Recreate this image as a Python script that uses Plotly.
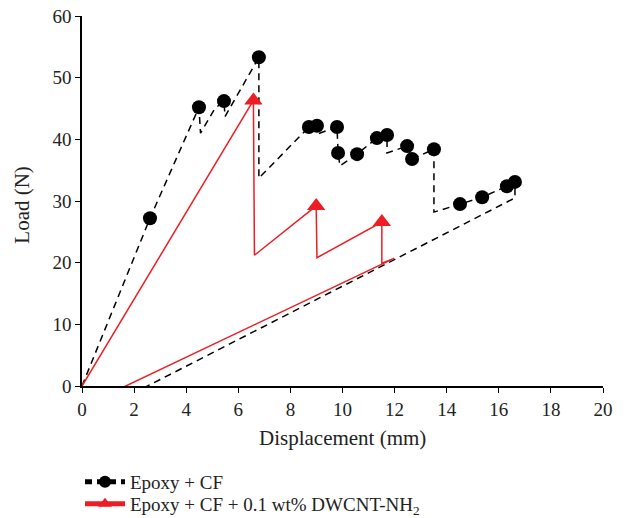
import plotly.graph_objects as go

# Epoxy + CF (black dashed path, markers on selected points)
disp_cf = [0, 2.61, 4.49, 4.55, 5.1, 5.45, 5.49, 6.79, 6.79, 8.71, 9.02, 9.12, 9.79, 9.83,
           9.9, 10.56, 11.32, 11.71, 11.71, 12.48, 12.67, 13.51, 13.51, 14.51, 15.36,
           16.31, 16.62, 16.62, 2.1]
load_cf = [0, 27.2, 45.2, 41.0, 45.0, 46.2, 43.7, 53.3, 33.7, 42.0, 42.2, 41.0, 42.0, 37.8,
           35.7, 37.6, 40.2, 40.7, 37.8, 38.9, 36.8, 38.4, 28.2, 29.5, 30.6,
           32.4, 33.1, 30.5, -0.9]
marked_cf = [0, 1, 1, 0, 0, 1, 0, 1, 0, 1, 1, 0, 1, 1,
             0, 1, 1, 1, 0, 1, 1, 1, 0, 1, 1,
             1, 1, 0, 0]

# Epoxy + CF + 0.1 wt% DWCNT-NH2 (red solid path)
disp_cnt = [0, 6.58, 6.62, 8.99, 9.02, 11.51, 11.51, 11.98, 1.03]
load_cnt = [0, 46.3, 21.2, 29.2, 20.8, 26.6, 19.9, 20.7, -1.3]
marked_cnt = [0, 1, 0, 1, 0, 1, 0, 0, 0]

x_ticks = list(range(0, 21, 2))
y_ticks = list(range(0, 61, 10))

FONT = "Liberation Serif"
RED = "#ee1c24"
W, H = 616, 510  # page body has an 8px margin
ML, MR, MT, MB = 74, 21, 8, 132
PW, PH = W - ML - MR, H - MT - MB

fig = go.Figure()
fig.add_trace(go.Scatter(
    x=disp_cf, y=load_cf, mode="lines+markers",
    name="Epoxy + CF", legend="legend", showlegend=True,
    line=dict(color="black", width=1.5, dash="7px,5px"),
    marker=dict(symbol="circle", color="black", opacity=1,
                line=dict(width=0),
                size=[14 if m else 0 for m in marked_cf]),
    cliponaxis=False,
))
fig.add_trace(go.Scatter(
    x=disp_cnt, y=load_cnt, mode="lines+markers",
    name="Epoxy + CF + 0.1 wt% DWCNT-NH<sub>2</sub>", legend="legend2", showlegend=True,
    line=dict(color=RED, width=1.5),
    marker=dict(symbol="triangle-up", color=RED, opacity=1,
                line=dict(width=0),
                size=[16 if m else 0 for m in marked_cnt]),
    cliponaxis=False,
))

axis_common = dict(
    showline=True, linecolor="black", linewidth=1.5,
    ticks="outside", ticklen=5, tickwidth=1.2, tickcolor="black",
    showgrid=False, zeroline=False, automargin=False,
    ticklabeloverflow="allow",
    tickfont=dict(family=FONT, size=19, color="#222"),
)
fig.update_xaxes(range=[0, 20], tickvals=x_ticks, **axis_common)
fig.update_yaxes(range=[0, 60], tickvals=y_ticks, **axis_common)

title_font = dict(family=FONT, size=21, color="#222")
fig.add_annotation(text="Displacement (mm)", xref="paper", yref="paper",
                   x=0.5, y=(MT + PH - 430) / PH, xanchor="center", yanchor="middle",
                   showarrow=False, font=title_font)
fig.add_annotation(text="Load (N)", xref="paper", yref="paper",
                   x=(14 - ML) / PW, y=0.49, xanchor="center", yanchor="middle",
                   textangle=-90, showarrow=False, font=title_font)

leg_common = dict(xref="container", yref="container", xanchor="left", yanchor="top",
                  orientation="v", itemsizing="constant", itemwidth=40,
                  font=dict(family=FONT, size=19, color="#222"),
                  bgcolor="rgba(0,0,0,0)")
fig.update_layout(
    width=W, height=H,
    showlegend=True,
    margin=dict(l=ML, r=MR, t=MT, b=MB, autoexpand=False),
    plot_bgcolor="white", paper_bgcolor="white",
    font=dict(family=FONT, size=18, color="#222"),
    legend=dict(x=72 / W, y=1 - 455 / H, **leg_common),
    legend2=dict(x=72 / W, y=1 - 477 / H, **leg_common),
)

fig.write_html("out.html")
